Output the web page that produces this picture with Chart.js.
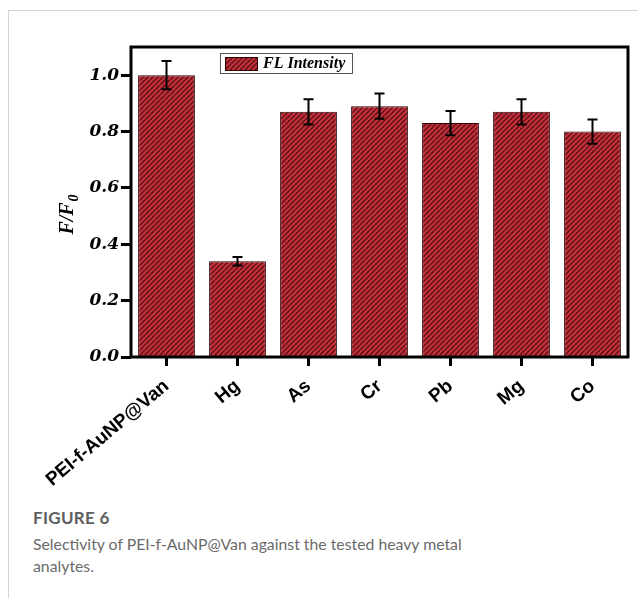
<!DOCTYPE html>
<html>
<head>
<meta charset="utf-8">
<script src="https://cdn.jsdelivr.net/npm/chart.js@4.4.0/dist/chart.umd.min.js"></script>
<style>
  html,body{margin:0;padding:0;background:#fff;width:638px;height:598px;overflow:hidden;}
  #frame{position:absolute;left:8px;top:10px;width:640px;height:600px;border-top:1px solid #d4d4d4;border-left:1px solid #d4d4d4;}
  #wrap{position:absolute;left:0;top:0;width:638px;height:500px;}
  #cap1{position:absolute;left:33px;top:507px;font-family:Lato,'Open Sans',sans-serif;font-weight:700;font-size:17px;color:#5e5e5e;letter-spacing:0.3px;}
  #cap2{position:absolute;left:33px;top:533px;width:600px;font-family:Lato,'Open Sans',sans-serif;font-size:15.8px;line-height:22px;color:#6a6a6a;}
</style>
</head>
<body>
<div id="frame"></div>
<div id="wrap"><canvas id="c" width="638" height="500"></canvas></div>
<div id="cap1">FIGURE 6</div>
<div id="cap2">Selectivity of PEI-f-AuNP@Van against the tested heavy metal<br>analytes.</div>
<script>
const categories = ['PEI-f-AuNP@Van','Hg','As','Cr','Pb','Mg','Co'];
const values = [1.00, 0.34, 0.87, 0.89, 0.83, 0.87, 0.80];
const errors = [0.05, 0.015, 0.045, 0.045, 0.043, 0.045, 0.043];
const yTicks = [0.0, 0.2, 0.4, 0.6, 0.8, 1.0];
const seriesLabel = 'FL Intensity';
const yTitleMain = 'F/F';
const yTitleSub = '0';

function makePattern(){
  const s = 5;
  const c = document.createElement('canvas');
  c.width = s; c.height = s;
  const g = c.getContext('2d');
  g.fillStyle = '#c7303a';
  g.fillRect(0,0,s,s);
  g.strokeStyle = '#5a1218';
  g.lineWidth = 1.5;
  for (const o of [-s, 0, s]) {
    g.beginPath();
    g.moveTo(o, s); g.lineTo(o + s, 0);
    g.stroke();
  }
  return document.getElementById('c').getContext('2d').createPattern(c, 'repeat');
}
const hatch = makePattern();

const decor = {
  id: 'decor',
  afterDatasetsDraw(chart){
    const ctx = chart.ctx;
    const ca = chart.chartArea;
    const x = chart.scales.x, y = chart.scales.y;
    // error bars
    ctx.save();
    ctx.strokeStyle = '#000';
    ctx.lineWidth = 2;
    values.forEach((v,i)=>{
      const px = x.getPixelForValue(i);
      const yt = y.getPixelForValue(v + errors[i]);
      const yb = y.getPixelForValue(v - errors[i]);
      ctx.beginPath();
      ctx.moveTo(px, yt); ctx.lineTo(px, yb);
      ctx.moveTo(px-5, yt); ctx.lineTo(px+5, yt);
      ctx.moveTo(px-5, yb); ctx.lineTo(px+5, yb);
      ctx.stroke();
    });
    ctx.restore();
    // frame box
    ctx.save();
    ctx.strokeStyle = '#000';
    ctx.lineWidth = 3;
    ctx.strokeRect(ca.left, ca.top, ca.right - ca.left, ca.bottom - ca.top);
    ctx.restore();
    // legend
    ctx.save();
    const lx = 220, ly = 53, lw = 132, lh = 20;
    ctx.fillStyle = '#fff';
    ctx.fillRect(lx, ly, lw, lh);
    ctx.strokeStyle = '#555';
    ctx.lineWidth = 1;
    ctx.strokeRect(lx + 0.5, ly + 0.5, lw, lh);
    ctx.fillStyle = hatch;
    ctx.fillRect(lx + 5, ly + 4, 32, 13);
    ctx.strokeStyle = '#300';
    ctx.strokeRect(lx + 5.5, ly + 4.5, 32, 13);
    ctx.fillStyle = '#000';
    ctx.font = "bold italic 16px 'Liberation Serif', serif";
    ctx.textBaseline = 'middle';
    ctx.textAlign = 'left';
    ctx.fillText(seriesLabel, lx + 43, ly + lh/2 + 1);
    ctx.restore();
    // y title
    ctx.save();
    ctx.translate(73, 215);
    ctx.rotate(-Math.PI/2);
    ctx.fillStyle = '#000';
    ctx.font = "bold italic 20px 'Liberation Serif', serif";
    ctx.textBaseline = 'alphabetic';
    const w1 = ctx.measureText(yTitleMain).width;
    ctx.font = "bold italic 14px 'Liberation Serif', serif";
    const w2 = ctx.measureText(yTitleSub).width;
    const start = -(w1 + w2)/2;
    ctx.font = "bold italic 20px 'Liberation Serif', serif";
    ctx.fillText(yTitleMain, start, 0);
    ctx.font = "bold italic 14px 'Liberation Serif', serif";
    ctx.fillText(yTitleSub, start + w1 + 1, 5);
    ctx.restore();
  }
};

new Chart(document.getElementById('c'), {
  type: 'bar',
  data: {
    labels: categories,
    datasets: [{
      label: seriesLabel,
      data: values,
      backgroundColor: hatch,
      borderColor: '#2a0000',
      borderWidth: 1,
      categoryPercentage: 0.8,
      barPercentage: 1.0
    }]
  },
  options: {
    responsive: false,
    animation: false,
    events: [],
    layout: { padding: { left: 0, right: 10, top: 47, bottom: 0 } },
    plugins: { legend: { display: false }, tooltip: { enabled: false } },
    scales: {
      x: {
        grid: { display: true, drawOnChartArea: false, drawTicks: true, offset: false, tickLength: 9, tickWidth: 3, tickColor: '#000' },
        border: { display: false },
        ticks: {
          minRotation: 40, maxRotation: 40, autoSkip: false, padding: 9,
          color: '#000',
          font: { family: "'Liberation Sans', Arial, sans-serif", weight: 'bold', size: 19 }
        },
        afterFit(scale){ scale.height = 143; }
      },
      y: {
        min: 0, max: 1.1,
        afterBuildTicks(scale){ scale.ticks = yTicks.map(v => ({ value: v })); },
        grid: { display: true, drawOnChartArea: false, drawTicks: true, tickLength: 10, tickWidth: 3, tickColor: '#000' },
        border: { display: false },
        ticks: {
          padding: 2, color: '#000',
          font: { family: "'DejaVu Serif', serif", weight: 'bold', style: 'italic', size: 17 },
          callback: (v) => Number(v).toFixed(1)
        },
        afterFit(scale){ scale.width = 131; }
      }
    }
  },
  plugins: [decor]
});
</script>
</body>
</html>
